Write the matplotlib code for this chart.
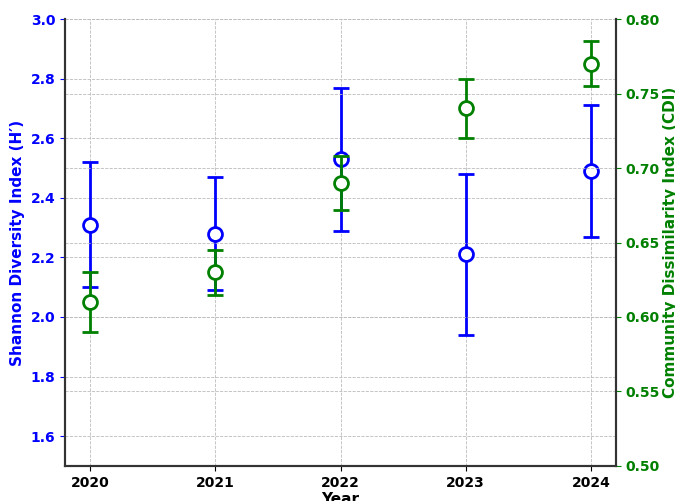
import matplotlib.pyplot as plt
import numpy as np

years = [2020, 2021, 2022, 2023, 2024]
shannon = [2.31, 2.28, 2.53, 2.21, 2.49]
shannon_err = [0.21, 0.19, 0.24, 0.27, 0.22]
cdi = [0.61, 0.63, 0.69, 0.74, 0.77]
cdi_err = [0.02, 0.015, 0.018, 0.02, 0.015]

plt.rcParams['font.family'] = 'DejaVu Sans'
plt.rcParams['font.weight'] = 'bold'

fig, ax1 = plt.subplots(figsize=(6.75, 5.01), dpi=100)
fig.subplots_adjust(left=0.0963, right=0.9126, bottom=0.0699, top=0.962)

ax1.errorbar(years, shannon, yerr=shannon_err, fmt='o', color='blue',
             markerfacecolor='white', markeredgecolor='blue', markersize=10,
             markeredgewidth=2, elinewidth=2, capsize=6, capthick=2, zorder=3)
ax1.set_ylim(1.5, 3.0)
ax1.set_yticks(np.arange(1.6, 3.01, 0.2))
ax1.set_xlim(2019.8, 2024.2)
ax1.set_xticks(years)
ax1.set_xlabel('Year', fontsize=11, fontweight='bold', labelpad=2)
ax1.set_ylabel('Shannon Diversity Index (H\u2032)', color='blue', fontsize=11,
               fontweight='bold', labelpad=4)
ax1.tick_params(axis='y', colors='blue', labelsize=10)
ax1.tick_params(axis='x', labelsize=10)
ax1.grid(True, linestyle='--', color='#bbbbbb', linewidth=0.6)

ax2 = ax1.twinx()
ax2.errorbar(years, cdi, yerr=cdi_err, fmt='o', color='green',
             markerfacecolor='white', markeredgecolor='green', markersize=10,
             markeredgewidth=2, elinewidth=2, capsize=6, capthick=2, zorder=3)
ax2.set_ylim(0.5, 0.8)
ax2.set_yticks(np.arange(0.5, 0.801, 0.05))
ax2.set_ylabel('Community Dissimilarity Index (CDI)', color='green', fontsize=11,
               fontweight='bold', labelpad=2)
ax2.tick_params(axis='y', colors='green', labelsize=10)
ax2.grid(True, linestyle='--', color='#bbbbbb', linewidth=0.6)

for ax in (ax1, ax2):
    ax.spines['top'].set_visible(False)
    for s in ('left', 'right', 'bottom'):
        ax.spines[s].set_color('#333333')
        ax.spines[s].set_linewidth(1.5)

fig.savefig('out.png')
